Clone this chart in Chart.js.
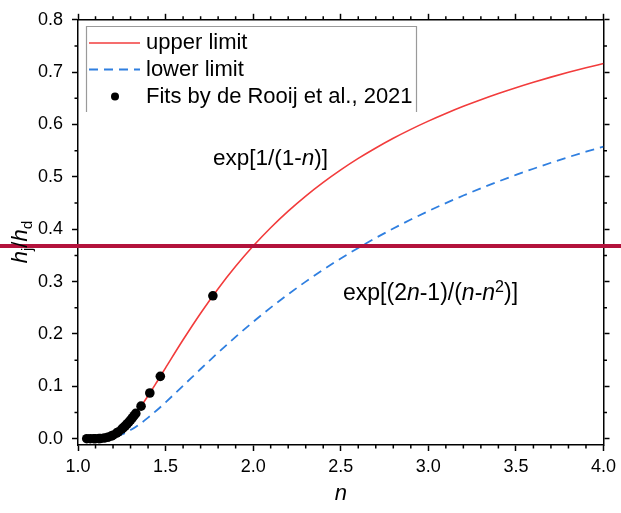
<!DOCTYPE html>
<html>
<head>
<meta charset="utf-8">
<script src="https://cdn.jsdelivr.net/npm/chart.js@4"></script>
<style>
  html, body { margin: 0; padding: 0; background: #fff; }
  #wrap { width: 621px; height: 513px; }
</style>
</head>
<body>
<div id="wrap"><canvas id="chart" width="621" height="513"></canvas></div>
<script>
// values
const nValues = [1.05, 1.10, 1.15, 1.20, 1.25, 1.30, 1.35, 1.40, 1.45, 1.50,
  1.60, 1.70, 1.80, 1.90, 2.00, 2.10, 2.20, 2.30, 2.40, 2.50,
  2.60, 2.70, 2.80, 2.90, 3.00, 3.10, 3.20, 3.30, 3.40, 3.50,
  3.60, 3.70, 3.80, 3.90, 4.00];
const upperLimit = [0.0000, 0.0000, 0.0013, 0.0067, 0.0183, 0.0357, 0.0574, 0.0821, 0.1084, 0.1353,
  0.1889, 0.2397, 0.2865, 0.3292, 0.3679, 0.4029, 0.4346, 0.4634, 0.4895, 0.5134,
  0.5353, 0.5553, 0.5738, 0.5908, 0.6065, 0.6211, 0.6348, 0.6474, 0.6592, 0.6703,
  0.6807, 0.6905, 0.6997, 0.7083, 0.7165];
const lowerLimit = [0.0000, 0.0000, 0.0005, 0.0029, 0.0082, 0.0165, 0.0274, 0.0402, 0.0544, 0.0695,
  0.1011, 0.1331, 0.1644, 0.1945, 0.2231, 0.2503, 0.2759, 0.3000, 0.3227, 0.3442,
  0.3644, 0.3834, 0.4014, 0.4185, 0.4346, 0.4499, 0.4644, 0.4782, 0.4913, 0.5037,
  0.5156, 0.5270, 0.5378, 0.5481, 0.5580];
const fitN = [1.05, 1.07, 1.09, 1.10, 1.12, 1.13, 1.15, 1.17, 1.19, 1.20, 1.22, 1.23,
  1.25, 1.26, 1.27, 1.28, 1.29, 1.30, 1.31, 1.32, 1.33, 1.36, 1.41, 1.47, 1.77];
const fitH = [0.0000, 0.0000, 0.0000, 0.0000, 0.0002, 0.0005, 0.0013, 0.0028, 0.0052, 0.0067, 0.0106, 0.0129,
  0.0183, 0.0214, 0.0246, 0.0281, 0.0318, 0.0357, 0.0397, 0.0439, 0.0483, 0.0622, 0.0873, 0.1191, 0.2729];
const refLevel = 0.3679;   // 1/e
const xRange = [1.0, 4.0];
const yRange = [-0.012, 0.8];

const FONT = '"Liberation Sans", Arial, sans-serif';

function pts(xs, ys) { return xs.map((x, i) => ({ x: x, y: ys[i] })); }

// text with italic / sub / sup runs
function runWidth(ctx, runs, size) {
  let w = 0;
  runs.forEach(r => {
    const s = (r.sub || r.sup) ? size * 0.7 : size;
    ctx.font = (r.it ? 'italic ' : '') + s + 'px ' + FONT;
    w += ctx.measureText(r.t).width;
  });
  return w;
}
function drawRuns(ctx, x, y, runs, size) {
  runs.forEach(r => {
    const s = (r.sub || r.sup) ? size * 0.7 : size;
    ctx.font = (r.it ? 'italic ' : '') + s + 'px ' + FONT;
    const dy = r.sup ? -size * 0.36 : (r.sub ? size * 0.22 : 0);
    ctx.fillText(r.t, x, y + dy);
    x += ctx.measureText(r.t).width;
  });
}

const decorations = {
  id: 'decorations',
  afterDatasetsDraw(chart) {
    const ctx = chart.ctx;
    const ys = chart.scales.y;
    const py = ys.getPixelForValue(refLevel);
    ctx.save();
    ctx.strokeStyle = '#b3123c';
    ctx.lineWidth = 4;
    ctx.beginPath();
    ctx.moveTo(0, py);
    ctx.lineTo(chart.width, py);
    ctx.stroke();
    ctx.restore();
  },
  afterDraw(chart) {
    const ctx = chart.ctx;
    const xs = chart.scales.x, ys = chart.scales.y;
    const a = chart.chartArea;
    ctx.save();
    // minor ticks
    ctx.strokeStyle = '#000';
    ctx.lineWidth = 1.5;
    ctx.beginPath();
    for (let i = 11; i < 40; i++) {
      if (i % 5 === 0) continue;
      const px = xs.getPixelForValue(i / 10);
      ctx.moveTo(px, a.bottom); ctx.lineTo(px, a.bottom + 3.5);
      ctx.moveTo(px, a.top); ctx.lineTo(px, a.top - 3.5);
    }
    for (let j = 0; j < 8; j++) {
      const py = ys.getPixelForValue(j / 10 + 0.05);
      ctx.moveTo(a.left, py); ctx.lineTo(a.left - 3.5, py);
      ctx.moveTo(a.right, py); ctx.lineTo(a.right + 3.5, py);
    }
    ctx.stroke();

    // legend box
    ctx.strokeStyle = '#9a9a9a';
    ctx.lineWidth = 1.2;
    ctx.beginPath();
    ctx.moveTo(86.5, 112); ctx.lineTo(86.5, 26.5); ctx.lineTo(416.5, 26.5); ctx.lineTo(416.5, 112);
    ctx.stroke();

    ctx.lineWidth = 1.6;
    ctx.strokeStyle = '#f23c3c';
    ctx.beginPath(); ctx.moveTo(89, 43); ctx.lineTo(140, 43); ctx.stroke();
    ctx.strokeStyle = '#2f7fe0';
    ctx.lineWidth = 1.8;
    ctx.setLineDash([9, 6]);
    ctx.beginPath(); ctx.moveTo(89, 69.5); ctx.lineTo(140, 69.5); ctx.stroke();
    ctx.setLineDash([]);
    ctx.fillStyle = '#000';
    ctx.beginPath(); ctx.arc(115, 96.5, 4, 0, Math.PI * 2); ctx.fill();

    ctx.textBaseline = 'middle';
    ctx.textAlign = 'left';
    ctx.font = '22px ' + FONT;
    ctx.fillText('upper limit', 146, 43);
    ctx.fillText('lower limit', 146, 69.5);
    ctx.fillText('Fits by de Rooij et al., 2021', 146, 96.5);

    // curve annotations
    ctx.textBaseline = 'alphabetic';
    drawRuns(ctx, 213, 165, [{ t: 'exp[1/(1-' }, { t: 'n', it: true }, { t: ')]' }], 22.5);
    drawRuns(ctx, 343, 300, [{ t: 'exp[(2' }, { t: 'n', it: true }, { t: '-1)/(' },
      { t: 'n', it: true }, { t: '-' }, { t: 'n', it: true }, { t: '2', sup: true }, { t: ')]' }], 23);

    // axis titles
    const xt = [{ t: 'n', it: true }];
    drawRuns(ctx, (a.left + a.right) / 2 - runWidth(ctx, xt, 22) / 2, 500, xt, 22);
    const yt = [{ t: 'h', it: true }, { t: 'j', sub: true }, { t: '/' }, { t: 'h', it: true }, { t: 'd', sub: true }];
    ctx.translate(27, 242);
    ctx.rotate(-Math.PI / 2);
    drawRuns(ctx, -runWidth(ctx, yt, 22) / 2, 0, yt, 22);
    ctx.restore();
  }
};

const axisGrid = { drawOnChartArea: false, drawTicks: true, tickLength: 6, tickWidth: 1.5, tickColor: '#000' };
const axisBorder = { display: true, color: '#000', width: 1.5 };
const tickFont = { family: FONT, size: 18 };

new Chart(document.getElementById('chart'), {
  type: 'scatter',
  data: {
    datasets: [
      {
        label: 'upper limit',
        data: pts(nValues, upperLimit),
        showLine: true,
        borderColor: '#f23c3c',
        borderWidth: 1.6,
        pointRadius: 0,
        cubicInterpolationMode: 'monotone',
        order: 2
      },
      {
        label: 'lower limit',
        data: pts(nValues, lowerLimit),
        showLine: true,
        borderColor: '#2f7fe0',
        borderWidth: 1.8,
        borderDash: [9, 6],
        pointRadius: 0,
        cubicInterpolationMode: 'monotone',
        order: 3
      },
      {
        label: 'Fits by de Rooij et al., 2021',
        data: pts(fitN, fitH),
        showLine: false,
        pointRadius: 4.8,
        pointBackgroundColor: '#000',
        pointBorderWidth: 0,
        order: 1
      }
    ]
  },
  options: {
    responsive: false,
    animation: false,
    devicePixelRatio: 1,
    layout: { padding: 0 },
    plugins: { legend: { display: false }, tooltip: { enabled: false } },
    scales: {
      x: {
        type: 'linear', position: 'bottom', min: xRange[0], max: xRange[1],
        ticks: { stepSize: 0.5, color: '#000', font: tickFont, padding: 5, maxRotation: 0,
          callback: v => v.toFixed(1) },
        grid: axisGrid, border: axisBorder,
        afterFit: s => { s.height = 68; }
      },
      x2: {
        type: 'linear', position: 'top', min: xRange[0], max: xRange[1],
        ticks: { stepSize: 0.5, display: false },
        grid: axisGrid, border: axisBorder,
        afterFit: s => { s.height = 15; }
      },
      y: {
        type: 'linear', position: 'left', min: yRange[0], max: yRange[1],
        ticks: { stepSize: 0.1, includeBounds: false, color: '#000', font: tickFont, padding: 9,
          callback: v => v.toFixed(1) },
        grid: axisGrid, border: axisBorder,
        afterFit: s => { s.width = 78; }
      },
      y2: {
        type: 'linear', position: 'right', min: yRange[0], max: yRange[1],
        ticks: { stepSize: 0.1, includeBounds: false, display: false },
        grid: axisGrid, border: axisBorder,
        afterFit: s => { s.width = 12; }
      }
    }
  },
  plugins: [decorations]
});
</script>
</body>
</html>
